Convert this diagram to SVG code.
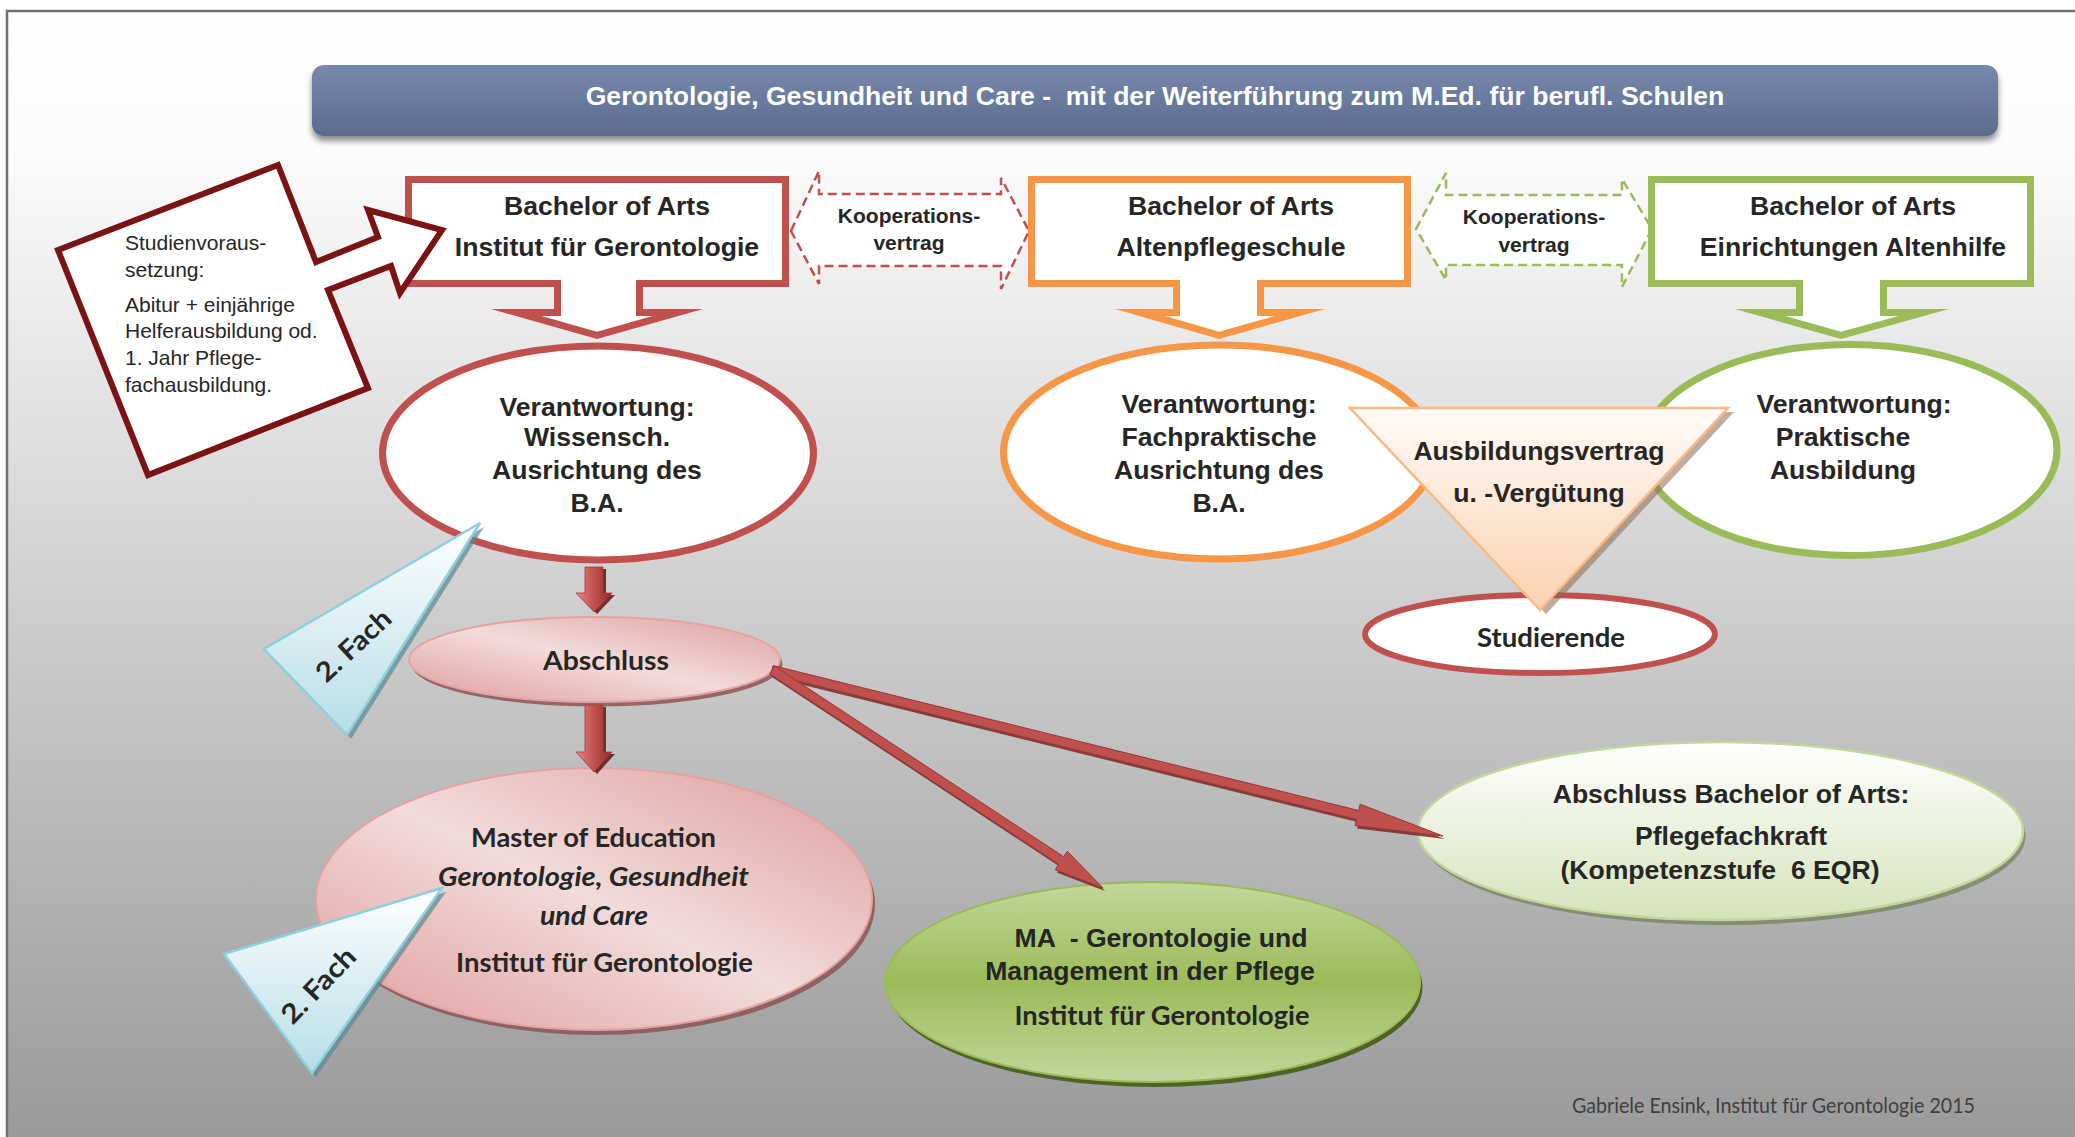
<svg xmlns="http://www.w3.org/2000/svg" width="2075" height="1137" viewBox="0 0 2075 1137">
<style>
.a{font-family:'Liberation Sans',Arial,sans-serif;font-weight:bold;font-size:26.6px;fill:#262626;text-anchor:middle}
.k{font-family:'Liberation Sans',Arial,sans-serif;font-weight:bold;font-size:21px;fill:#262626;text-anchor:middle}
.s{font-family:'Liberation Sans',Arial,sans-serif;font-size:21px;fill:#262626}
.c{font-family:Lato,'Liberation Sans',sans-serif;font-weight:bold;font-size:27px;fill:#262626;text-anchor:middle}
.ci{font-family:Lato,'Liberation Sans',sans-serif;font-weight:bold;font-style:italic;font-size:27px;fill:#262626;text-anchor:middle}
.wl{fill:#fff}
.koop{fill:#fff;stroke-width:2.5;stroke-dasharray:9 5}
</style>
<defs>
<linearGradient id="bg" x1="0" y1="11" x2="0" y2="1137" gradientUnits="userSpaceOnUse">
<stop offset="0" stop-color="#ffffff"/><stop offset="0.12" stop-color="#fcfcfc"/><stop offset="1" stop-color="#9a9a9a"/>
</linearGradient>
<linearGradient id="title" x1="0" y1="0" x2="0" y2="1">
<stop offset="0" stop-color="#7889ad"/><stop offset="1" stop-color="#5b6b8e"/>
</linearGradient>
<linearGradient id="pink" x1="0" y1="1" x2="1" y2="0">
<stop offset="0" stop-color="#e09c9b"/><stop offset="0.5" stop-color="#f2dbdb"/><stop offset="1" stop-color="#df9e9d"/>
</linearGradient>
<linearGradient id="green" x1="0" y1="0" x2="0" y2="1">
<stop offset="0" stop-color="#c3d79d"/><stop offset="0.5" stop-color="#9bbb59"/><stop offset="1" stop-color="#c3d79d"/>
</linearGradient>
<linearGradient id="lgreen" x1="0" y1="0" x2="0" y2="1">
<stop offset="0" stop-color="#ffffff"/><stop offset="1" stop-color="#d6e3bb"/>
</linearGradient>
<linearGradient id="blue" x1="0" y1="0" x2="0" y2="1">
<stop offset="0" stop-color="#ffffff"/><stop offset="1" stop-color="#b6dde7"/>
</linearGradient>
<linearGradient id="peach" x1="0" y1="0" x2="0" y2="1">
<stop offset="0" stop-color="#fffbf8"/><stop offset="1" stop-color="#fbd2b0"/>
</linearGradient>
<linearGradient id="red3d" x1="0" y1="0" x2="1" y2="0">
<stop offset="0" stop-color="#e48a88"/><stop offset="0.5" stop-color="#c0504d"/><stop offset="1" stop-color="#922d2b"/>
</linearGradient>
<filter id="sh" x="-5%" y="-30%" width="110%" height="180%">
<feGaussianBlur in="SourceAlpha" stdDeviation="3"/>
<feOffset dy="5" result="o"/>
<feComponentTransfer><feFuncA type="linear" slope="0.45"/></feComponentTransfer>
<feMerge><feMergeNode/><feMergeNode in="SourceGraphic"/></feMerge>
</filter>
</defs>

<rect x="0" y="0" width="2075" height="1137" fill="#ffffff"/>
<rect x="7" y="11" width="2120" height="1200" fill="url(#bg)" stroke="#707070" stroke-width="2.5"/>

<g id="title-bar">
<rect x="312" y="65" width="1686" height="71" rx="12" fill="url(#title)" filter="url(#sh)"/>
<text x="1155" y="105" class="a" style="fill:#ffffff" xml:space="preserve">Gerontologie, Gesundheit und Care -  mit der Weiterführung zum M.Ed. für berufl. Schulen</text>
</g>

<g id="koop-1">
<path class="koop" stroke="#c0504d" d="M791,231 L819,171 V194 H1001 V178 L1029,231 L1001,289 V266 H819 V284 Z"/>
<text x="909" y="223" class="k">Kooperations-</text>
<text x="909" y="250" class="k">vertrag</text>
</g>
<g id="koop-2">
<path class="koop" stroke="#9bbb59" d="M1416,229 L1446,173 V195 H1622 V179 L1652,229 L1622,287 V265 H1446 V280 Z"/>
<text x="1534" y="224" class="k">Kooperations-</text>
<text x="1534" y="252" class="k">vertrag</text>
</g>

<g id="ba-institut">
<polygon fill="#c0504d" points="405,176 789,176 789,287 643,287 643,309 703,309 597,339 491,309 554,309 554,287 405,287"/>
<polygon class="wl" points="412,183 782,183 782,280 636,280 636,316 652.6,316 597,331.7 541.4,316 561,316 561,280 412,280"/>
<text x="607" y="215" class="a">Bachelor of Arts</text>
<text x="607" y="256" class="a">Institut für Gerontologie</text>
</g>
<g id="ba-altenpflegeschule">
<polygon fill="#f79646" points="1028,176 1411,176 1411,287 1264,287 1264,309 1325,309 1219,339 1115,309 1173,309 1173,287 1028,287"/>
<polygon class="wl" points="1035,183 1404,183 1404,280 1257,280 1257,316 1274.6,316 1219,331.7 1165.4,316 1180,316 1180,280 1035,280"/>
<text x="1231" y="215" class="a">Bachelor of Arts</text>
<text x="1231" y="256" class="a">Altenpflegeschule</text>
</g>
<g id="ba-einrichtungen">
<polygon fill="#9bbb59" points="1648,176 2034,176 2034,287 1887,287 1887,309 1949,309 1841,339 1735,309 1796,309 1796,287 1648,287"/>
<polygon class="wl" points="1655,183 2027,183 2027,280 1880,280 1880,316 1898.6,316 1841,331.7 1785.4,316 1803,316 1803,280 1655,280"/>
<text x="1853" y="215" class="a">Bachelor of Arts</text>
<text x="1853" y="256" class="a">Einrichtungen Altenhilfe</text>
</g>

<g id="studienvoraussetzung">
<polygon fill="#ffffff" stroke="#7a1414" stroke-width="6" stroke-linejoin="miter" points="58,250 278,165 316,262 378,237 368,210 442,230 400,293 391,266 328,290 368,388 148,475"/>
<text class="s" x="125" y="250">Studienvoraus-</text>
<text class="s" x="125" y="277">setzung:</text>
<text class="s" x="125" y="312">Abitur + einjährige</text>
<text class="s" x="125" y="338">Helferausbildung od.</text>
<text class="s" x="125" y="365">1. Jahr Pflege-</text>
<text class="s" x="125" y="392">fachausbildung.</text>
</g>

<g id="verantwortung-wiss">
<ellipse cx="598" cy="453" rx="215.5" ry="107" fill="#ffffff" stroke="#c0504d" stroke-width="7"/>
<text x="597" y="416" class="a">Verantwortung:</text>
<text x="597" y="446" class="a">Wissensch.</text>
<text x="597" y="479" class="a">Ausrichtung des</text>
<text x="597" y="512" class="a">B.A.</text>
</g>
<g id="verantwortung-fach">
<ellipse cx="1219" cy="452" rx="215.5" ry="107" fill="#ffffff" stroke="#f79646" stroke-width="7"/>
<text x="1219" y="413" class="a">Verantwortung:</text>
<text x="1219" y="446" class="a">Fachpraktische</text>
<text x="1219" y="479" class="a">Ausrichtung des</text>
<text x="1219" y="512" class="a">B.A.</text>
</g>
<g id="verantwortung-prakt">
<ellipse cx="1850" cy="450" rx="207" ry="105.5" fill="#ffffff" stroke="#9bbb59" stroke-width="7"/>
<text x="1854" y="413" class="a">Verantwortung:</text>
<text x="1843" y="446" class="a">Praktische</text>
<text x="1843" y="479" class="a">Ausbildung</text>
</g>

<g id="studierende">
<ellipse cx="1540" cy="634" rx="175" ry="39" fill="#ffffff" stroke="#c0504d" stroke-width="6"/>
<text x="1551" y="647" class="c" textLength="148" lengthAdjust="spacingAndGlyphs">Studierende</text>
</g>

<g id="ausbildungsvertrag">
<polygon points="1356,412 1734,412 1546,614" fill="#8a6a50" opacity="0.55"/>
<polygon points="1350,408 1728,408 1540,610" fill="url(#peach)" stroke="#f8b987" stroke-width="2.5"/>
<text x="1539" y="460" class="a">Ausbildungsvertrag</text>
<text x="1539" y="502" class="a">u. -Vergütung</text>
</g>

<g id="abschluss">
<ellipse cx="597" cy="664" rx="185.5" ry="42.5" fill="#8a5656" opacity="0.85"/>
<ellipse cx="594.5" cy="659.5" rx="185.5" ry="42.5" fill="url(#pink)" stroke="#e3a3a2" stroke-width="2"/>
<text x="606" y="670" class="c" textLength="126" lengthAdjust="spacingAndGlyphs">Abschluss</text>
</g>

<g id="master-education">
<ellipse cx="597" cy="904" rx="278" ry="131" fill="#8a5656" opacity="0.85"/>
<ellipse cx="594" cy="899" rx="278" ry="131" fill="url(#pink)" stroke="#e3a3a2" stroke-width="2"/>
<text x="593.5" y="847" class="c" textLength="245" lengthAdjust="spacingAndGlyphs">Master of Education</text>
<text x="593.5" y="886" class="ci" textLength="311" lengthAdjust="spacingAndGlyphs">Gerontologie, Gesundheit</text>
<text x="594" y="925" class="ci" textLength="108" lengthAdjust="spacingAndGlyphs">und Care</text>
<text x="604.5" y="972" class="c" textLength="297" lengthAdjust="spacingAndGlyphs">Institut für Gerontologie</text>
</g>

<g id="ma-management">
<ellipse cx="1155" cy="987" rx="267.5" ry="100" fill="#4f6228"/>
<ellipse cx="1152.5" cy="982" rx="267.5" ry="100" fill="url(#green)" stroke="#9bbb59" stroke-width="2"/>
<text x="1161" y="947" class="a" xml:space="preserve">MA  - Gerontologie und</text>
<text x="1150" y="980" class="a">Management in der Pflege</text>
<text x="1162" y="1025" class="c" textLength="295" lengthAdjust="spacingAndGlyphs">Institut für Gerontologie</text>
</g>

<g id="abschluss-ba">
<ellipse cx="1723" cy="836" rx="302.5" ry="89" fill="#7f876a" opacity="0.85"/>
<ellipse cx="1720.5" cy="831" rx="302.5" ry="89" fill="url(#lgreen)" stroke="#c3d69b" stroke-width="2.5"/>
<text x="1731" y="803" class="a">Abschluss Bachelor of Arts:</text>
<text x="1731" y="845" class="a">Pflegefachkraft</text>
<text x="1720" y="879" class="a" xml:space="preserve">(Kompetenzstufe  6 EQR)</text>
</g>

<g id="zweites-fach-1">
<polygon points="484,527 268,653 351,739" fill="#5d8790" opacity="0.7"/>
<polygon points="480,523 264,649 347,735" fill="url(#blue)" stroke="#8ecfde" stroke-width="2.5"/>
<text transform="translate(353,645) rotate(-43)" x="0" y="10" class="c" textLength="92" lengthAdjust="spacingAndGlyphs">2. Fach</text>
</g>
<g id="zweites-fach-2">
<polygon points="446,892 228,958 316,1077" fill="#5d8790" opacity="0.7"/>
<polygon points="442,888 224,954 312,1073" fill="url(#blue)" stroke="#8ecfde" stroke-width="2.5"/>
<text transform="translate(318,985) rotate(-46)" x="0" y="10" class="c" textLength="94" lengthAdjust="spacingAndGlyphs">2. Fach</text>
</g>

<g id="connectors">
<polygon points="588,569 606,569 606,595 615,595 597,614 579,595 588,595" fill="#5a1515" opacity="0.85"/>
<polygon points="585,567 603,567 603,593 612,593 594,612 576,593 585,593" fill="url(#red3d)" stroke="#a83a38" stroke-width="0.8"/>
<polygon points="588,707 606,707 606,754 615,754 597,774 579,754 588,754" fill="#5a1515" opacity="0.85"/>
<polygon points="585,705 603,705 603,752 612,752 594,772 576,752 585,752" fill="url(#red3d)" stroke="#a83a38" stroke-width="0.8"/>
<polygon points="775.1,668.6 1360.7,813.5 1362.2,807.2 1445,839 1357,828.6 1358.5,822.3 772.9,677.4" fill="#6e1f1f" opacity="0.8"/>
<polygon points="773.1,665.6 1358.7,810.5 1360.2,804.2 1443,836 1355,825.6 1356.5,819.3 770.9,674.4" fill="#c0504d" stroke="#9b3533" stroke-width="1"/>
<polygon points="776.5,669.2 1065.7,859.7 1069.3,854.3 1105,891 1057.2,872.7 1060.7,867.3 771.5,676.8" fill="#6e1f1f" opacity="0.8"/>
<polygon points="774.5,666.2 1063.7,856.7 1067.3,851.3 1103,888 1055.2,869.7 1058.7,864.3 769.5,673.8" fill="#c0504d" stroke="#9b3533" stroke-width="1"/>
</g>

<text x="1572" y="1113" style="font-family:Lato,'Liberation Sans',sans-serif;font-size:21px;fill:#404040" textLength="403" lengthAdjust="spacingAndGlyphs">Gabriele Ensink, Institut für Gerontologie 2015</text>
</svg>
